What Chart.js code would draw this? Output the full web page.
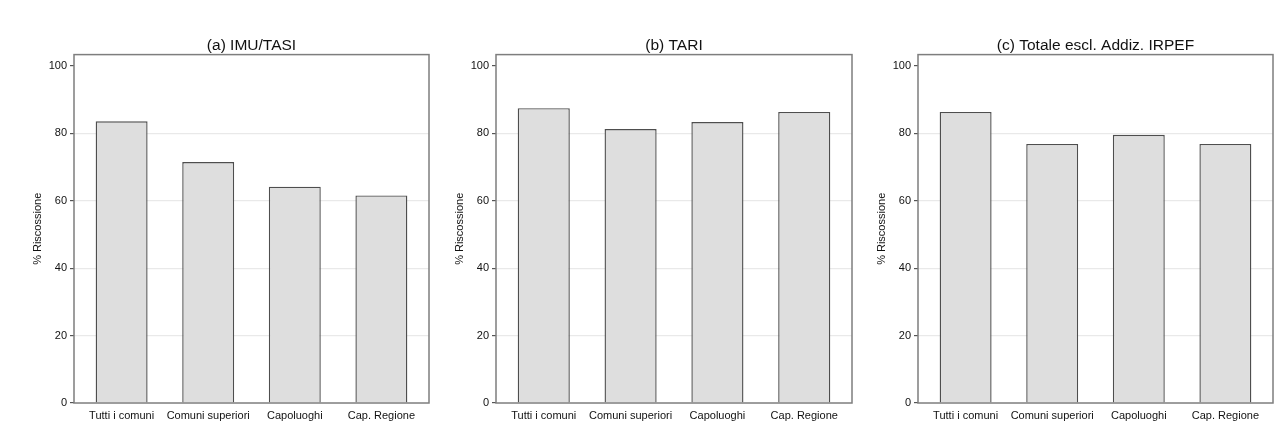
<!DOCTYPE html>
<html>
<head>
<meta charset="utf-8">
<script src="https://cdn.jsdelivr.net/npm/chart.js@4.4.0/dist/chart.umd.min.js"></script>
<style>
  html, body { margin: 0; padding: 0; background: #ffffff; }
  body { width: 1279px; height: 430px; position: relative; overflow: hidden; }
  canvas { position: absolute; top: 0; }
</style>
</head>
<body>
<canvas id="ca" width="435" height="430" style="left:0px"></canvas>
<canvas id="cb" width="425" height="430" style="left:435px"></canvas>
<canvas id="cc" width="419" height="430" style="left:860px"></canvas>
<script>
const categories = ["Tutti i comuni", "Comuni superiori", "Capoluoghi", "Cap. Regione"];
const imuTasi = [83.6, 71.5, 64.2, 61.6];
const tari = [87.5, 81.3, 83.4, 86.4];
const totale = [86.4, 76.9, 79.6, 76.9];
const yTicks = [0, 20, 40, 60, 80, 100];
const titles = ["(a) IMU/TASI", "(b) TARI", "(c) Totale escl. Addiz. IRPEF"];
const yTitle = "% Riscossione";

const FONT = "'Liberation Sans', Arial, Helvetica, sans-serif";

const framePlugin = {
  id: 'frame',
  afterDraw(chart) {
    const a = chart.chartArea;
    const ctx = chart.ctx;
    ctx.save();
    ctx.strokeStyle = '#7e7e7e';
    ctx.lineWidth = 1.5;
    ctx.strokeRect(a.left, a.top, a.right - a.left, a.bottom - a.top);
    ctx.restore();
  }
};

function makeChart(id, title, values, padLeft, padRight) {
  new Chart(document.getElementById(id), {
    type: 'bar',
    data: {
      datasets: [{
        data: values.map((v, i) => ({ x: i + 1, y: v })),
        backgroundColor: '#dedede',
        borderColor: '#4e4e4e',
        borderWidth: 1.4,
        barPercentage: 0.6,
        categoryPercentage: 1.0
      }]
    },
    plugins: [framePlugin],
    options: {
      responsive: false,
      animation: false,
      devicePixelRatio: 1,
      layout: { padding: { left: padLeft, right: padRight, top: 0, bottom: 0 } },
      plugins: {
        legend: { display: false },
        tooltip: { enabled: false },
        title: {
          display: true,
          text: title,
          fullSize: false,
          color: '#111',
          font: { family: FONT, size: 15.5, weight: 'normal' },
          padding: { top: 36, bottom: 0 }
        }
      },
      scales: {
        x: {
          type: 'linear',
          offset: false,
          min: 0.45,
          max: 4.55,
          afterBuildTicks: (axis) => { axis.ticks = categories.map((c, i) => ({ value: i + 1 })); },
          afterFit: (scale) => { scale.height = 27; },
          grid: { display: false, drawTicks: false },
          border: { display: false },
          ticks: {
            autoSkip: false,
            maxRotation: 0,
            padding: 6,
            color: '#111',
            font: { family: FONT, size: 11 },
            callback: (v) => categories[v - 1]
          }
        },
        y: {
          min: 0,
          max: 103.4,
          afterBuildTicks: (axis) => { axis.ticks = yTicks.map(v => ({ value: v })); },
          afterFit: (scale) => { scale.width = 43; },
          grid: {
            color: (c) => (c.tick && (c.tick.value === 0 || c.tick.value === 100)) ? 'rgba(0,0,0,0)' : '#e9e9e9',
            lineWidth: 1.2,
            tickColor: '#555',
            tickLength: 4,
            drawTicks: true
          },
          border: { display: false },
          ticks: {
            padding: 3,
            color: '#111',
            font: { family: FONT, size: 11 },
            callback: (v) => String(v)
          },
          title: {
            display: true,
            text: yTitle,
            color: '#111',
            font: { family: FONT, size: 11 },
            padding: { top: 0, bottom: 0 }
          }
        }
      }
    }
  });
}

makeChart('ca', titles[0], imuTasi, 31, 6);
makeChart('cb', titles[1], tari, 18, 8);
makeChart('cc', titles[2], totale, 15, 6);
</script>
</body>
</html>
